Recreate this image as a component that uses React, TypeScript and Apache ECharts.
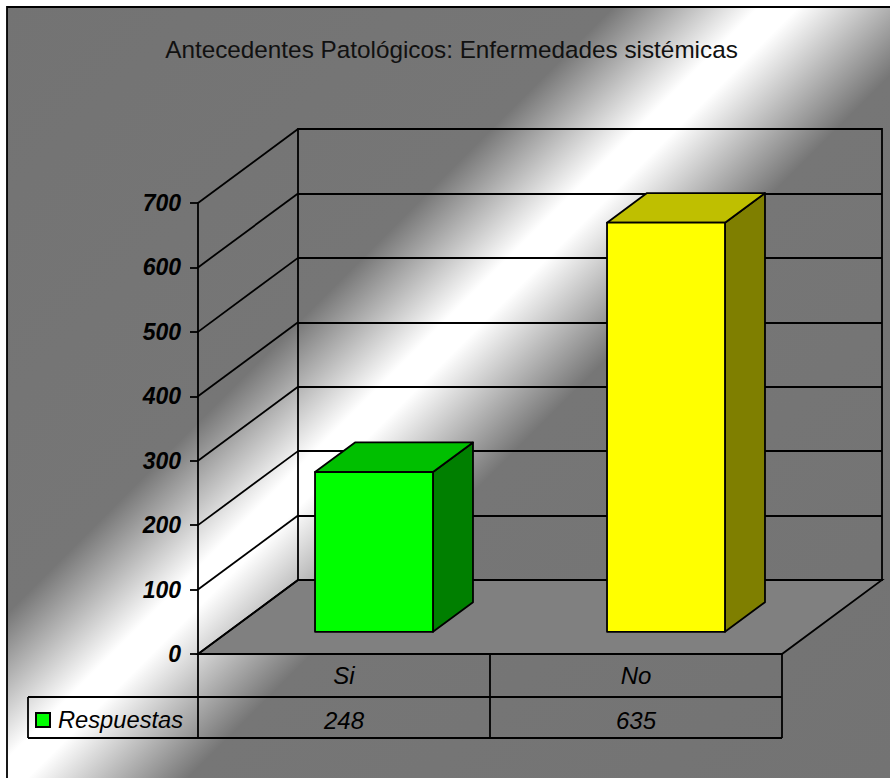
import React, { useEffect, useRef } from "react";
import * as echarts from "echarts";

const titleText = "Antecedentes Patológicos: Enfermedades sistémicas";
const seriesName = "Respuestas";
const categories = ["Si", "No"];
const respuestas = [248, 635];
const yTicks = [0, 100, 200, 300, 400, 500, 600, 700];

const FONT = "'Liberation Sans', Arial, sans-serif";
const DX = 100;
const DY = -74;
const faces = [
  { front: "#00ff00", top: "#00bf00", side: "#007f00" },
  { front: "#ffff00", top: "#bfbf00", side: "#7f7f00" },
];
const LINE = { stroke: "#000", lineWidth: 1.8 };

const floorItem = (params: any) => {
  const c = params.coordSys;
  const b = c.y + c.height;
  return {
    type: "polygon",
    shape: { points: [[c.x, b], [c.x + c.width, b], [c.x + c.width + DX, b + DY], [c.x + DX, b + DY]] },
    style: { fill: "#808080", ...LINE },
  };
};

const wallItem = (params: any, api: any) => {
  const c = params.coordSys;
  const y = api.coord([0, api.value(1)])[1];
  return {
    type: "line",
    shape: { x1: c.x, y1: y, x2: c.x + DX, y2: y + DY },
    style: { ...LINE, fill: null },
  };
};

const barItem = (params: any, api: any) => {
  const i = api.value(0);
  const [cx, top] = api.coord([i, api.value(1)]);
  const base = api.coord([i, 0])[1];
  const band = api.size([1, 0])[0];
  const w = band * 0.404;
  const x0 = cx + DX * 0.3 - w / 2;
  const x1 = x0 + w;
  const yB = base + DY * 0.3;
  const yT = top + DY * 0.3;
  const dx = DX * 0.4;
  const dy = DY * 0.4;
  const f = faces[i];
  const poly = (points: number[][], fill: string) => ({
    type: "polygon",
    shape: { points },
    style: { fill, ...LINE, lineJoin: "round" },
  });
  return {
    type: "group",
    children: [
      poly([[x1, yT], [x1 + dx, yT + dy], [x1 + dx, yB + dy], [x1, yB]], f.side),
      poly([[x0, yT], [x0 + dx, yT + dy], [x1 + dx, yT + dy], [x1, yT]], f.top),
      poly([[x0, yT], [x1, yT], [x1, yB], [x0, yB]], f.front),
    ],
  };
};

const tableTextItem = (params: any, api: any) => {
  const cx = api.coord([api.value(0), 0])[0];
  return {
    type: "text",
    style: {
      text: String(api.value(1)),
      x: cx,
      y: 720,
      align: "center",
      verticalAlign: "middle",
      fill: "#000",
      font: `italic 24px ${FONT}`,
    },
  };
};

const tableLine = (x1: number, y1: number, x2: number, y2: number) => ({
  type: "line",
  z: 10,
  silent: true,
  shape: { x1, y1, x2, y2 },
  style: { ...LINE },
});

export default function App() {
  const ref = useRef<HTMLDivElement>(null);
  useEffect(() => {
    if (!ref.current) return;
    const chart = echarts.init(ref.current, undefined, { renderer: "svg" });
    const bg = new echarts.graphic.LinearGradient(
      0, 0, 834, 834,
      [
        { offset: 0, color: "#737373" },
        { offset: 0.372, color: "#767676" },
        { offset: 0.459, color: "#ffffff" },
        { offset: 0.483, color: "#ffffff" },
        { offset: 0.579, color: "#767676" },
        { offset: 1, color: "#737373" },
      ],
      true
    );
    const barData = categories.map((_, i) => [i, respuestas[i]]);
    chart.setOption({
      animation: false,
      backgroundColor: "#fff",
      title: {
        text: titleText,
        left: 446.5,
        top: 32,
        textAlign: "center",
        textStyle: { fontFamily: FONT, fontSize: 24.3, fontWeight: "normal", color: "#111" },
      },
      legend: {
        left: 35,
        top: 708,
        padding: 0,
        data: [seriesName],
        icon: "rect",
        itemWidth: 14,
        itemHeight: 14,
        textStyle: { fontFamily: FONT, fontSize: 23.7, fontStyle: "italic", color: "#000", padding: [0, 0, 0, 3] },
      },
      graphic: {
        elements: [
          {
            type: "rect",
            z: -10,
            silent: true,
            shape: { x: 7, y: 7, width: 900, height: 800 },
            style: { fill: bg, stroke: "#000", lineWidth: 1.8 },
          },
          tableLine(198, 654, 198, 738),
          tableLine(490, 654, 490, 738),
          tableLine(782, 654, 782, 738),
          tableLine(28, 697, 782, 697),
          tableLine(28, 738, 782, 738),
          tableLine(28, 697, 28, 738),
        ],
      },
      grid: [
        { left: 198, top: 203, width: 584, height: 451 },
        { left: 298, top: 129, width: 584, height: 451, show: true, borderColor: "#000", borderWidth: 1.8, backgroundColor: "transparent" },
      ],
      xAxis: [
        {
          type: "category",
          gridIndex: 0,
          data: categories,
          axisLine: { lineStyle: { color: "#000", width: 1.8 } },
          axisTick: { show: false },
          axisLabel: { margin: 9, fontFamily: FONT, fontSize: 24, fontStyle: "italic", color: "#000" },
        },
        { type: "category", gridIndex: 1, data: categories, show: false },
      ],
      yAxis: [
        {
          type: "value",
          gridIndex: 0,
          min: 0,
          max: 700,
          interval: 100,
          axisLine: { show: true, lineStyle: { color: "#000", width: 1.8 } },
          axisTick: { show: true, length: 8, lineStyle: { color: "#000", width: 1.8 } },
          splitLine: { show: false },
          axisLabel: { margin: 17, fontFamily: FONT, fontSize: 23, fontStyle: "italic", fontWeight: "bold", color: "#000" },
        },
        {
          type: "value",
          gridIndex: 1,
          min: 0,
          max: 700,
          interval: 100,
          axisLine: { show: false },
          axisTick: { show: false },
          axisLabel: { show: false },
          splitLine: { show: true, lineStyle: { color: "#000", width: 1.8 } },
        },
      ],
      series: [
        {
          type: "custom",
          name: "floor",
          z: 1,
          xAxisIndex: 0,
          yAxisIndex: 0,
          data: [[0, 0]],
          renderItem: floorItem,
          silent: true,
        },
        {
          type: "custom",
          name: "walls",
          z: 2,
          xAxisIndex: 0,
          yAxisIndex: 0,
          data: yTicks.map((t) => [0, t]),
          renderItem: wallItem,
          silent: true,
        },
        {
          type: "custom",
          name: seriesName,
          z: 5,
          xAxisIndex: 0,
          yAxisIndex: 0,
          itemStyle: { color: "#00ff00", borderColor: "#000", borderWidth: 1.5 },
          encode: { x: 0, y: 1 },
          data: barData,
          renderItem: barItem,
        },
        {
          type: "custom",
          name: "table",
          z: 6,
          xAxisIndex: 0,
          yAxisIndex: 0,
          encode: { x: 0, y: 1 },
          data: barData,
          renderItem: tableTextItem,
          silent: true,
        },
      ],
    });
    return () => chart.dispose();
  }, []);
  return <div ref={ref} style={{ position: "absolute", left: 0, top: 0, width: 890, height: 778 }} />;
}
